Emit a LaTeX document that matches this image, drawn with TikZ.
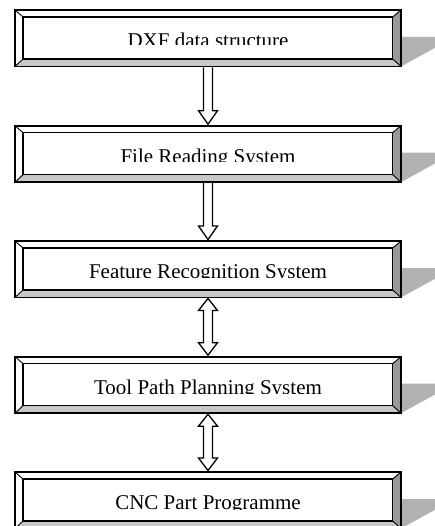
\documentclass[tikz,border=0pt]{standalone}
\usepackage{fontspec}
\setmainfont{Liberation Serif}
\usetikzlibrary{calc}
\definecolor{rbev}{gray}{0.60}
\definecolor{bbev}{gray}{0.78}
\tikzset{
  boxn/.style={minimum width=386pt, minimum height=56.5pt, inner sep=0pt, outer sep=0pt},
  outer/.style={line width=1.8pt},
  inner/.style={line width=1.4pt},
  diag/.style={line width=0.9pt},
  lbl/.style={anchor=base, inner sep=0pt, font=\fontsize{21}{24}\selectfont},
  arr/.style={draw, fill=white, line width=1.3pt, line join=miter},
  shad/.style={fill=black!30},
}
\newcommand\mybox[4]{%
  \fill[shad] (401,{#2+27}) -- (440,{#2+27}) -- (440,{#2+35}) -- (401,{#2+56.5}) -- cycle;
  \node[boxn] (#1) at (208,{#2+28.25}) {};
  \coordinate (#1nw) at ($(#1.north west)+(8,7)$);
  \coordinate (#1ne) at ($(#1.north east)+(-8.3,7)$);
  \coordinate (#1sw) at ($(#1.south west)+(8,-7.5)$);
  \coordinate (#1se) at ($(#1.south east)+(-8.3,-7.5)$);
  \fill[rbev] (#1.north east) -- (#1.south east) -- (#1se) -- (#1ne) -- cycle;
  \fill[bbev] (#1.south west) -- (#1.south east) -- (#1se) -- (#1sw) -- cycle;
  \draw[diag] (#1.north west) -- (#1nw) (#1.north east) -- (#1ne)
              (#1.south west) -- (#1sw) (#1.south east) -- (#1se);
  \draw[inner] (#1nw) rectangle (#1se);
  \draw[outer] (#1.north west) rectangle (#1.south east);
  \begin{scope}
    \clip (15,{#2+7}) rectangle (401,{#2+#4});
    \node[lbl] (#1t) at (208,{#2+37.5}) {#3};
  \end{scope}
}
\newcommand\arrdown[2]{%
  \draw[arr] ($(#1.south)+(-4.5,1)$) -- ($(#2.north)+(-4.5,-15)$) -- ($(#2.north)+(-9.5,-15)$)
    -- ($(#2.north)+(0,-1.5)$) -- ($(#2.north)+(9.5,-15)$) -- ($(#2.north)+(4.5,-15)$)
    -- ($(#1.south)+(4.5,1)$);
}
\newcommand\arrboth[2]{%
  \draw[arr] ($(#1.south)+(0,1)$) -- ($(#1.south)+(9.5,13)$) -- ($(#1.south)+(4.5,13)$)
    -- ($(#2.north)+(4.5,-14)$) -- ($(#2.north)+(9.5,-14)$) -- ($(#2.north)+(0,-1.5)$)
    -- ($(#2.north)+(-9.5,-14)$) -- ($(#2.north)+(-4.5,-14)$) -- ($(#1.south)+(-4.5,13)$)
    -- ($(#1.south)+(-9.5,13)$) -- cycle;
}
\begin{document}
\begin{tikzpicture}[x=1pt,y=-1pt]
  \clip (0,0) rectangle (435,526);
  \fill[white] (0,0) rectangle (435,526);
  \mybox{b1}{10}{DXF data structure}{35}
  \mybox{b2}{125.7}{File Reading System}{36}
  \mybox{b3}{241}{Feature Recognition System}{36.5}
  \mybox{b4}{356.7}{Tool Path Planning System}{36.5}
  \mybox{b5}{472}{CNC Part Programme}{37.5}
  \arrdown{b1}{b2}
  \arrdown{b2}{b3}
  \arrboth{b3}{b4}
  \arrboth{b4}{b5}
\end{tikzpicture}
\end{document}
